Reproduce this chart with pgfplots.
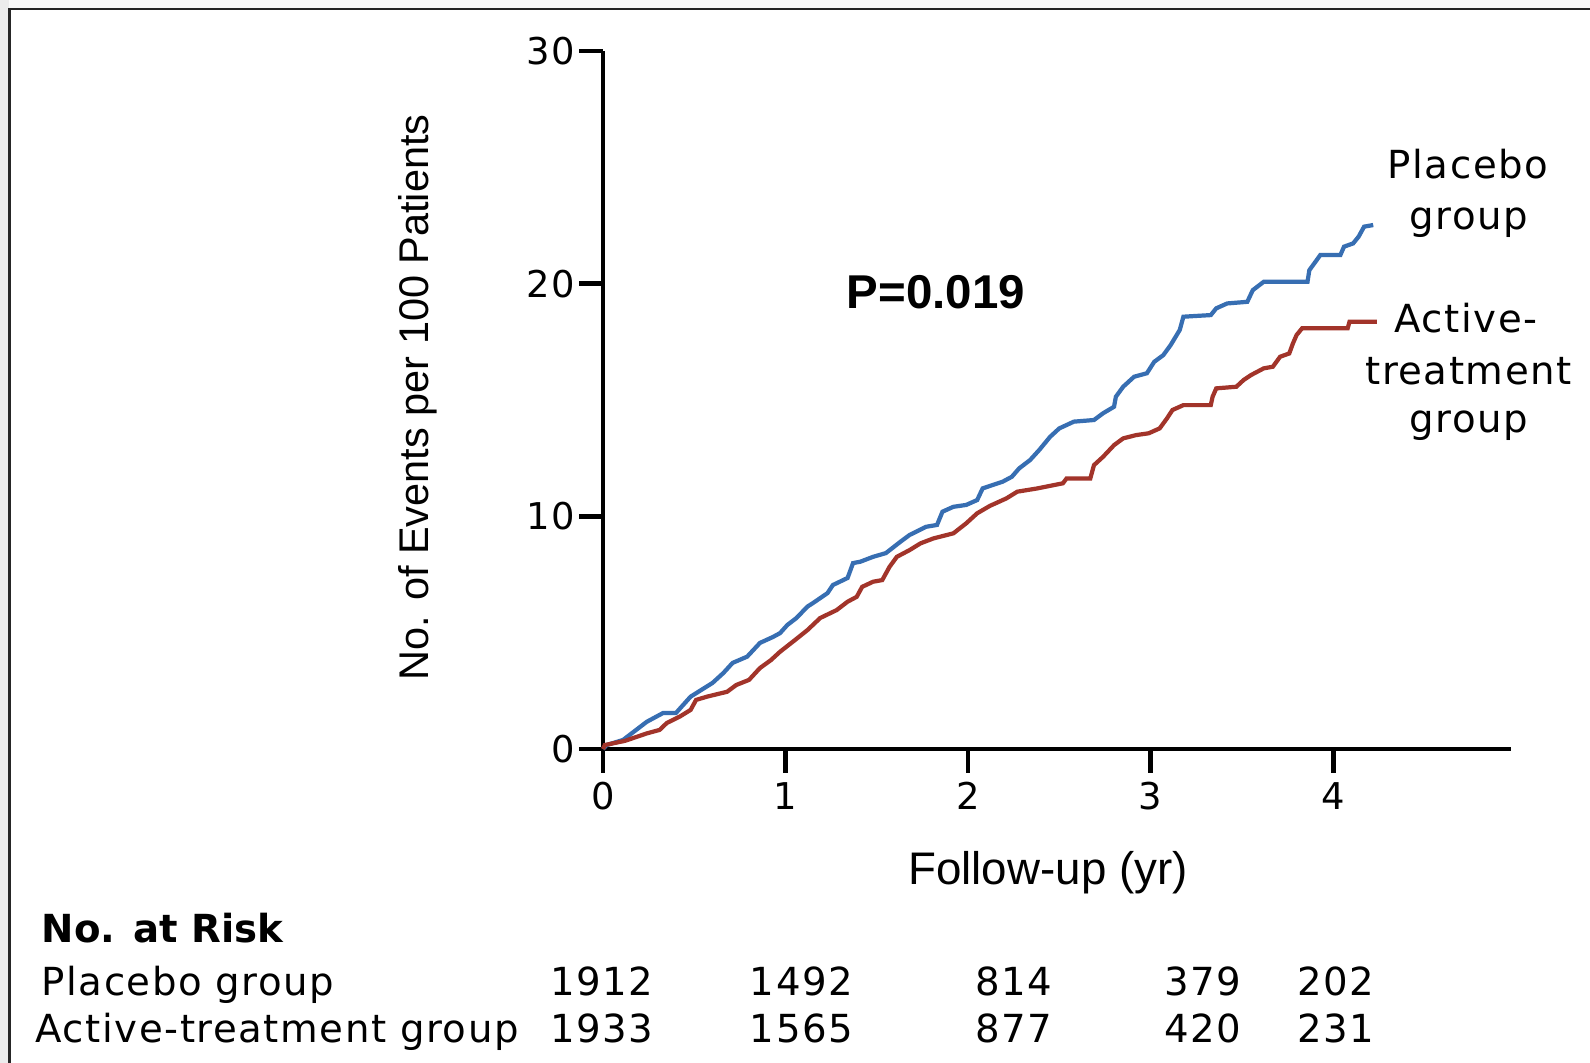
\documentclass[border=0pt]{standalone}
\usepackage{fontspec}
\setmainfont{DejaVu Sans}
\newfontfamily\lib{Liberation Sans}
\newfontfamily\wide[LetterSpace=4]{DejaVu Sans}
\usepackage{pgfplots}
\pgfplotsset{compat=1.18}
\definecolor{placebo}{RGB}{55,110,178}
\definecolor{active}{RGB}{162,52,42}

\begin{document}
\begin{tikzpicture}
% page and frame (1 px = 0.01 cm, y downwards negative)
\path[use as bounding box] (0,0) rectangle (15.90,-10.63);
\fill[gray!4] (0,0) rectangle (15.90,-0.09);
\fill[gray!15] (0,0) rectangle (0.09,-10.63);
\fill[white] (0.095,-0.088) rectangle (15.90,-10.63);
\draw[line width=0.7pt, black!85] (0.095,-10.63) -- (0.095,-0.088) -- (15.90,-0.088);

\begin{axis}[
  at={(6.03cm,-7.49cm)}, anchor=south west,
  scale only axis, width=9.08cm, height=6.98cm,
  xmin=0, xmax=4.975, ymin=0, ymax=30,
  axis x line=bottom, axis y line=left,
  axis line style={-, line width=1.4pt},
  xtick={0,1,2,3,4}, ytick={0,10,20,30},
  tick align=outside, major tick length=0.24cm,
  tick style={line width=1.4pt, black},
  ticklabel style={font=\wide\fontsize{10.5}{12}\selectfont},
  yticklabel style={xshift=0.08cm},
  xticklabel style={yshift=0.03cm},
  /pgf/number format/assume math mode=true,
  clip=false,
]
\addplot[line width=1.2pt, placebo] coordinates {
(0,0)(0.02,0.17)(0.11,0.39)(0.24,1.17)(0.33,1.55)(0.40,1.55)(0.48,2.25)(0.60,2.84)
(0.66,3.27)(0.71,3.70)(0.79,3.97)(0.86,4.56)(0.93,4.81)(0.97,4.98)(1.01,5.33)(1.06,5.63)
(1.12,6.12)(1.15,6.27)(1.23,6.70)(1.26,7.05)(1.34,7.35)(1.37,7.99)(1.41,8.05)(1.48,8.26)
(1.55,8.42)(1.63,8.91)(1.68,9.20)(1.77,9.55)(1.83,9.63)(1.86,10.20)(1.92,10.41)(1.99,10.49)
(2.05,10.70)(2.08,11.20)(2.19,11.49)(2.24,11.70)(2.28,12.06)(2.34,12.42)(2.39,12.85)
(2.45,13.42)(2.50,13.78)(2.58,14.07)(2.69,14.14)(2.74,14.43)(2.80,14.71)(2.81,15.14)
(2.85,15.57)(2.91,16.00)(2.98,16.15)(3.02,16.64)(3.07,16.93)(3.11,17.36)(3.16,18.01)
(3.18,18.58)(3.33,18.65)(3.36,18.94)(3.42,19.15)(3.53,19.22)(3.56,19.72)(3.62,20.08)
(3.86,20.08)(3.87,20.58)(3.91,21.01)(3.93,21.23)(4.04,21.23)(4.06,21.59)(4.11,21.73)
(4.14,22.02)(4.17,22.45)(4.22,22.52)
};
\addplot[line width=1.2pt, active] coordinates {
(0,0)(0.01,0.17)(0.12,0.35)(0.24,0.67)(0.31,0.82)(0.35,1.12)(0.42,1.39)(0.48,1.68)
(0.51,2.11)(0.57,2.25)(0.68,2.46)(0.73,2.75)(0.80,2.97)(0.86,3.48)(0.92,3.82)(0.97,4.18)
(1.04,4.61)(1.12,5.11)(1.19,5.63)(1.28,5.97)(1.34,6.33)(1.39,6.54)(1.42,6.97)(1.48,7.19)
(1.53,7.26)(1.57,7.83)(1.61,8.26)(1.68,8.55)(1.74,8.84)(1.81,9.05)(1.92,9.27)(1.99,9.70)
(2.05,10.13)(2.12,10.45)(2.21,10.77)(2.27,11.06)(2.38,11.20)(2.52,11.42)(2.54,11.63)
(2.67,11.63)(2.69,12.20)(2.74,12.56)(2.80,13.06)(2.85,13.35)(2.92,13.49)(2.99,13.57)
(3.05,13.78)(3.09,14.21)(3.12,14.57)(3.18,14.78)(3.33,14.78)(3.34,15.14)(3.36,15.50)
(3.47,15.57)(3.51,15.86)(3.55,16.07)(3.62,16.36)(3.67,16.43)(3.71,16.86)(3.76,17.00)
(3.78,17.43)(3.80,17.79)(3.83,18.08)(4.08,18.08)(4.09,18.36)(4.24,18.36)
};
\end{axis}

% axis labels
\node[rotate=90, font=\lib\fontsize{11.8}{14}\selectfont] at (4.18,-3.975) {No. of Events per 100 Patients};
\node[anchor=base, font=\lib\fontsize{13}{15}\selectfont] at (10.48,-8.85) {Follow-up (yr)};
\node[anchor=base, font=\lib\bfseries\fontsize{13.5}{16}\selectfont] at (9.36,-3.09) {P=0.019};

% curve labels
\begin{scope}[every node/.style={anchor=base, inner sep=0pt, font=\wide\fontsize{11}{13}\selectfont}]
\node at (14.68,-1.79) {Placebo};
\node at (14.69,-2.30) {group};
\node at (14.66,-3.33) {Active-};
\node at (14.685,-3.85) {treatment};
\node at (14.69,-4.33) {group};
\end{scope}

% number at risk
\begin{scope}[every node/.style={inner sep=0pt, font=\wide\fontsize{11}{13}\selectfont}]
\node[anchor=base west, font=\bfseries\fontsize{11}{13}\selectfont] at (0.41,-9.43) {No. at Risk};
\node[anchor=base west] at (0.41,-9.96) {Placebo group};
\node[anchor=base west] at (0.35,-10.42) {Active-treatment group};
\node[anchor=base] at (6.02,-9.96) {1912};
\node[anchor=base] at (8.015,-9.96) {1492};
\node[anchor=base] at (10.14,-9.96) {814};
\node[anchor=base] at (12.03,-9.96) {379};
\node[anchor=base] at (13.355,-9.96) {202};
\node[anchor=base] at (6.02,-10.42) {1933};
\node[anchor=base] at (8.015,-10.42) {1565};
\node[anchor=base] at (10.14,-10.42) {877};
\node[anchor=base] at (12.03,-10.42) {420};
\node[anchor=base] at (13.355,-10.42) {231};
\end{scope}
\end{tikzpicture}
\end{document}
